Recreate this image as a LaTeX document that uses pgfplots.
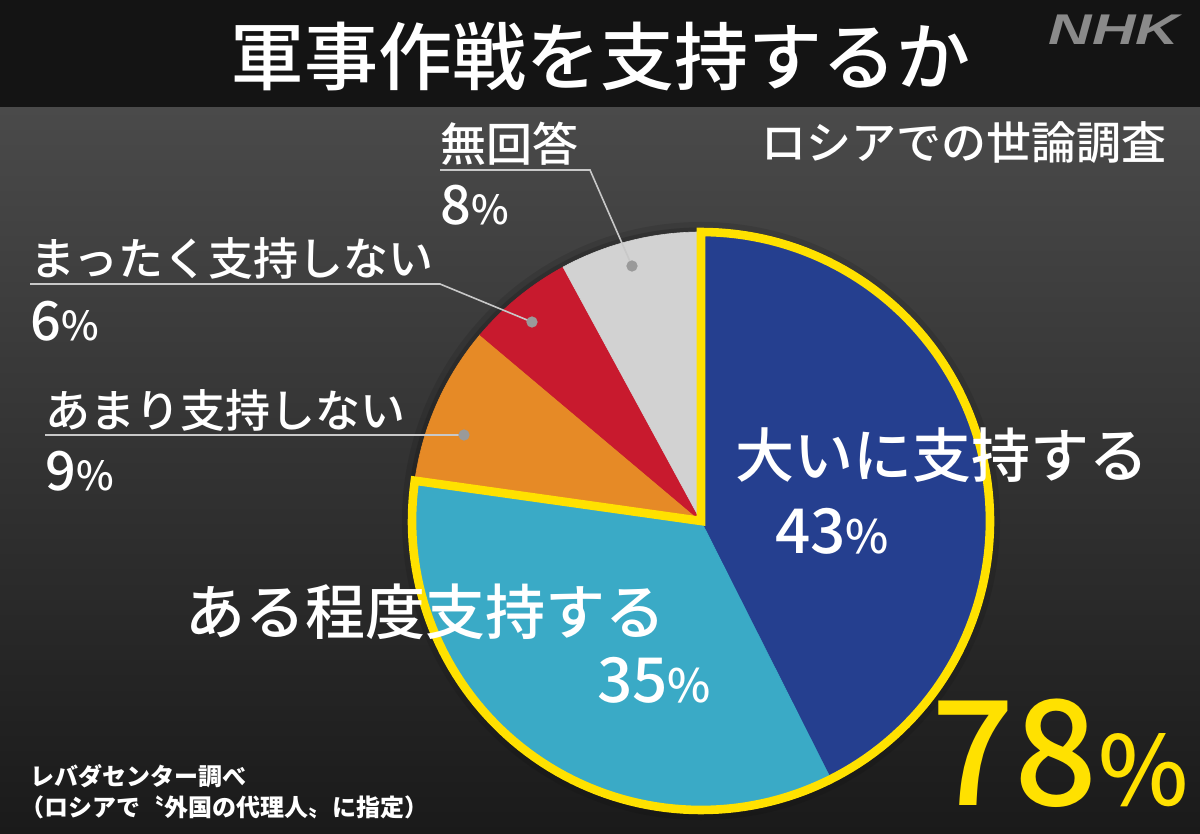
\documentclass[border=0pt]{standalone}
\usepackage{pgfplots}
\pgfplotsset{compat=1.18}
\usepackage{pgfplotstable}
\usepackage{fontspec}
\setmainfont{Noto Sans CJK JP}
\newfontfamily\jpmed{Noto Sans CJK JP Medium}
\newfontfamily\nhkfont{Liberation Sans}
\definecolor{cBlue}{HTML}{253F8F}
\definecolor{cLight}{HTML}{3AAAC6}
\definecolor{cOrange}{HTML}{E68A26}
\definecolor{cRed}{HTML}{C81A2E}
\definecolor{cGray}{HTML}{D2D2D2}
\definecolor{cYellow}{HTML}{FFE100}
\definecolor{barBg}{HTML}{141414}
\definecolor{bgTop}{HTML}{4A4A4A}
\definecolor{bgBot}{HTML}{1A1A1A}
\definecolor{leader}{HTML}{C8C8C8}
\definecolor{dotc}{HTML}{9A9A9A}
\definecolor{nhkgray}{HTML}{8A8A8A}

\pgfplotstableread{
val
43
35
9
6
8
}\piedata

\newcommand\fs[1]{\fontsize{#1}{#1}\selectfont}

\begin{document}%
\begin{tikzpicture}
\pgfplotstablegetelem{0}{val}\of\piedata\let\vA\pgfplotsretval
\pgfplotstablegetelem{1}{val}\of\piedata\let\vB\pgfplotsretval
\pgfplotstablegetelem{2}{val}\of\piedata\let\vC\pgfplotsretval
\pgfplotstablegetelem{3}{val}\of\piedata\let\vD\pgfplotsretval
\pgfplotstablegetelem{4}{val}\of\piedata\let\vE\pgfplotsretval
\pgfmathsetmacro\tot{\vA+\vB+\vC+\vD+\vE}
\pgfmathsetmacro\aA{90}
\pgfmathsetmacro\aB{\aA-360*\vA/\tot}
\pgfmathsetmacro\aC{\aB-360*\vB/\tot}
\pgfmathsetmacro\aD{\aC-360*\vC/\tot}
\pgfmathsetmacro\aE{\aD-360*\vD/\tot}
\pgfmathsetmacro\aF{\aE-360*\vE/\tot}
\begin{axis}[scale only axis, width=600pt, height=417pt,
  xmin=0, xmax=1200, ymin=0, ymax=834, y dir=reverse,
  hide axis, clip=false]
\coordinate (bl) at (axis cs:0,834);
\coordinate (tr) at (axis cs:1200,0);
% background
\shade[top color=bgTop, bottom color=bgBot] (axis cs:0,107) rectangle (axis cs:1200,834);
\fill[barBg] (axis cs:0,0) rectangle (axis cs:1200,107);
% soft shadow round the pie
\draw[black, opacity=0.10, line width=7pt] (axis cs:701,521) circle[radius=292];
\draw[black, opacity=0.15, line width=3.5pt] (axis cs:701,521) circle[radius=290];
% pie slices
\addplot[draw=cBlue, line width=0.3pt, fill=cBlue, domain=\aB:\aA, samples=90, variable=\t]
  ({701+289*cos(\t)},{521-289*sin(\t)}) -- (axis cs:701,521) -- cycle;
\addplot[draw=cLight, line width=0.3pt, fill=cLight, domain=\aC:\aB, samples=90, variable=\t]
  ({701+289*cos(\t)},{521-289*sin(\t)}) -- (axis cs:701,521) -- cycle;
\addplot[draw=cOrange, line width=0.3pt, fill=cOrange, domain=\aD:\aC, samples=30, variable=\t]
  ({701+289*cos(\t)},{521-289*sin(\t)}) -- (axis cs:701,521) -- cycle;
\addplot[draw=cRed, line width=0.3pt, fill=cRed, domain=\aE:\aD, samples=30, variable=\t]
  ({701+289*cos(\t)},{521-289*sin(\t)}) -- (axis cs:701,521) -- cycle;
\addplot[draw=cGray, line width=0.3pt, fill=cGray, domain=\aF:\aE, samples=30, variable=\t]
  ({701+289*cos(\t)},{521-289*sin(\t)}) -- (axis cs:701,521) -- cycle;
% yellow outline of the 78% group
\addplot[draw=cYellow, line width=4.3pt, line join=miter, domain=\aC:\aA, samples=160, variable=\t]
  ({701+289*cos(\t)},{521-289*sin(\t)}) -- (axis cs:701,521) -- cycle;
% leader lines
\addplot[draw=leader, line width=0.8pt] coordinates {(440,170) (590,170) (632,266)};
\addplot[draw=leader, line width=0.8pt] coordinates {(30,284) (440,284) (532,322)};
\addplot[draw=leader, line width=0.8pt] coordinates {(45,435) (464,435)};
\addplot[only marks, mark=*, mark size=2.6pt, mark options={draw=dotc, fill=dotc}]
  coordinates {(632,266) (532,322) (464,435)};
% title
\node[text=white, inner sep=0pt] at (axis cs:600,56) {\jpmed\fs{37}軍事作戦を支持するか};
\node[text=nhkgray, inner sep=0pt, xscale=1.4] at (axis cs:1114,30) {\nhkfont\fs{21.5}\bfseries\itshape NHK};
\node[text=white, inner sep=0pt, anchor=east] at (axis cs:1167,143) {\jpmed\fs{22.5}ロシアでの世論調査};
% small labels
\node[text=white, inner sep=0pt, anchor=west] at (axis cs:440,144) {\jpmed\fs{23}無回答};
\node[text=white, inner sep=0pt, anchor=west] at (axis cs:440,205) {\jpmed\fs{27}8{\fs{20}\%}};
\node[text=white, inner sep=0pt, anchor=west] at (axis cs:30,258) {\jpmed\fs{22.5}まったく支持しない};
\node[text=white, inner sep=0pt, anchor=west] at (axis cs:30,321) {\jpmed\fs{27}6{\fs{20}\%}};
\node[text=white, inner sep=0pt, anchor=west] at (axis cs:45,410) {\jpmed\fs{22.5}あまり支持しない};
\node[text=white, inner sep=0pt, anchor=west] at (axis cs:45,471) {\jpmed\fs{27}9{\fs{20}\%}};
% big labels
\node[text=white, inner sep=0pt] at (axis cs:942,455) {\jpmed\fs{29.5}大いに支持する};
\node[text=white, inner sep=0pt] at (axis cs:832,531) {\jpmed\fs{31}43{\fs{23}\%}};
\node[text=white, inner sep=0pt] at (axis cs:425,612) {\jpmed\fs{30}ある程度支持する};
\node[text=white, inner sep=0pt] at (axis cs:654,680) {\jpmed\fs{31}35{\fs{23}\%}};
\node[text=cYellow, inner sep=0pt] at (axis cs:1060,753) {\jpmed\fs{73}78{\fs{48}\%}};
% source
\node[text=white, inner sep=0pt, anchor=west] at (axis cs:30,776) {\fs{12}\bfseries レバダセンター調べ};
\node[text=white, inner sep=0pt, anchor=west] at (axis cs:20,807) {\fs{12}\bfseries （ロシアで〝外国の代理人〟に指定）};
\end{axis}
\pgfresetboundingbox
\path[use as bounding box] (bl) rectangle (tr);
\end{tikzpicture}%
\end{document}
